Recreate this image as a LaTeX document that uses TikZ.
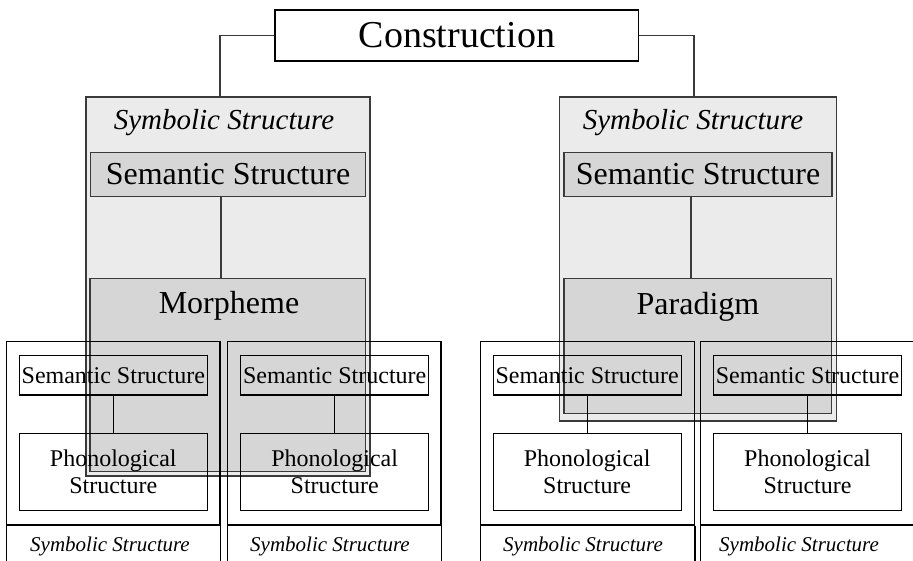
\documentclass[tikz,border=0pt]{standalone}
\usepackage{fontspec}
\setmainfont{Liberation Serif}
\definecolor{lightfill}{HTML}{EBEBEB}
\definecolor{darkfill}{HTML}{D6D6D6}
\definecolor{linegray}{HTML}{3A3A3A}
\begin{document}
\begin{tikzpicture}[x=1pt,y=-1pt,
  box/.style={draw=black, line width=1.2pt, inner sep=0pt, align=center},
  grayline/.style={draw=linegray, line width=1.3pt},
  symbox/.style={grayline, fill=lightfill, inner sep=0pt},
  shadebox/.style={box, draw=linegray, line width=1.3pt, fill=darkfill},
  bigtxt/.style={font=\fontsize{32}{36}\selectfont},
  smalltxt/.style={font=\fontsize{24}{26.7}\selectfont},
  symlabel/.style={anchor=base, inner sep=0pt, font=\fontsize{29}{32}\selectfont\itshape},
  lowlabel/.style={anchor=base, inner sep=0pt, font=\fontsize{21}{24}\selectfont\itshape}]
\useasboundingbox (0,0) rectangle (913,561);
\clip (0,0) rectangle (913,561);
\fill[white] (0,0) rectangle (913,561);

% construction
\node[box, minimum width=363.7pt, minimum height=51pt, font=\fontsize{38}{42}\selectfont] (con) at (456.85,35.5) {Construction};

% symbolic big boxes
\node[symbox, minimum width=284pt, minimum height=379pt] (symL) at (228,286.5) {};
\node[symbox, minimum width=277.2pt, minimum height=324pt] (symR) at (697.9,259) {};
\node[symlabel] (symLt) at (224,130) {Symbolic Structure};
\node[symlabel] (symRt) at (693,130) {Symbolic Structure};

% connectors from construction
\draw[grayline] (con.west) -| ([xshift=-8pt]symL.north);
\draw[grayline] (con.east) -| ([xshift=-3.9pt]symR.north);

% top semantic boxes
\node[shadebox, minimum width=274.6pt, minimum height=44.4pt, bigtxt] (semL) at (228,174.5) {Semantic Structure};
\node[shadebox, minimum width=268pt, minimum height=44.4pt, bigtxt] (semR) at (698,174.5) {Semantic Structure};

% morpheme / paradigm
\node[shadebox, minimum width=275.7pt, minimum height=192.6pt] (morph) at (227.85,375) {};
\node[shadebox, minimum width=267.7pt, minimum height=134.6pt] (para) at (697.85,346) {};
\node[anchor=base, inner sep=0pt, bigtxt] (morphT) at (229,314) {Morpheme};
\node[anchor=base, inner sep=0pt, bigtxt] (paraT) at (698,315) {Paradigm};

\draw[grayline] ([xshift=-7pt]semL.south) -- ([xshift=-7pt]semL.south |- morph.north);
\draw[grayline] ([xshift=-7pt]semR.south) -- ([xshift=-7pt]semR.south |- para.north);

% lower symbolic structures
\foreach \n/\cx/\w/\lx in {1/113.35/213.3/110, 2/334.35/213.3/330, 3/587.5/213.6/583, 4/807.5/213.6/799}{
  \node[box, minimum width=\w pt, minimum height=183.3pt] (lb\n) at (\cx,433.35) {};
  \draw[black, line width=1.2pt] (lb\n.south west) -- ++(0,50) (lb\n.south east) -- ++(0,50);
  \node[lowlabel] (lbt\n) at (\lx,551) {Symbolic Structure};
}
\foreach \n/\cx in {1/113.3, 2/334.7, 3/587.15, 4/807.5}{
  \node[box, minimum width=188pt, minimum height=39.3pt, smalltxt] (ss\n) at (\cx,375.35) {Semantic Structure};
  \node[box, minimum width=188pt, minimum height=77.4pt, smalltxt] (ps\n) at (\cx,472) {Phonological\\Structure};
  \draw[black, line width=1.2pt] (ss\n.south) -- (ps\n.north);
}
\end{tikzpicture}
\end{document}
